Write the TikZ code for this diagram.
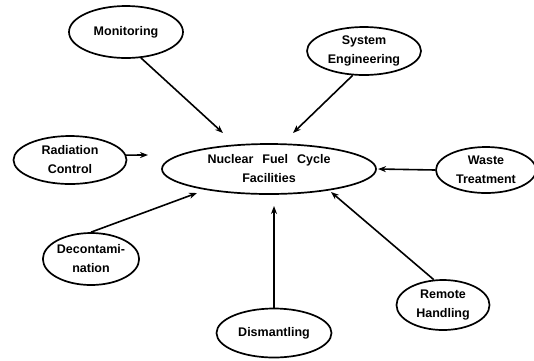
\documentclass[tikz,border=0pt]{standalone}
\usepackage{fontspec}
\setmainfont{Liberation Sans}
\usetikzlibrary{shapes.geometric,arrows.meta}
\begin{document}
\begin{tikzpicture}[x=1pt,y=-1pt,
  oval/.style={ellipse,draw,line width=1.7pt,inner sep=0pt,align=center,
    font=\fontsize{12.5}{19}\selectfont\bfseries},
  feed/.style={line width=1.6pt,-{Stealth[length=8pt,width=6pt]}}]
\useasboundingbox (0,0) rectangle (534,360);
\node[oval,minimum width=214pt,minimum height=50pt] (nfc) at (269,169) {Nuclear\hspace{9pt}Fuel\hspace{9pt}Cycle\\Facilities};
\node[oval,minimum width=114pt,minimum height=52pt] (mon) at (126,32) {Monitoring};
\node[oval,minimum width=114pt,minimum height=48pt] (sys) at (364,51) {System\\Engineering};
\node[oval,minimum width=113pt,minimum height=48pt] (rad) at (70,160) {Radiation\\Control};
\node[oval,minimum width=100pt,minimum height=46pt] (wst) at (486,170) {Waste\\Treatment};
\node[oval,minimum width=94pt,minimum height=52pt] (dec) at (91,259) {Decontami-\\nation};
\node[oval,minimum width=115pt,minimum height=49pt] (dis) at (274,333) {Dismantling};
\node[oval,minimum width=93pt,minimum height=50pt] (rem) at (443,305) {Remote\\Handling};
\coordinate (tmon) at (223,133);
\coordinate (tsys) at (293,133);
\coordinate (trad) at (148,155);
\coordinate (twst) at (378,169);
\coordinate (tdec) at (197,193);
\coordinate (tdis) at (274,206);
\coordinate (trem) at (331,192);
\draw[feed] (mon.-60) -- (tmon);
\draw[feed] (sys.-115) -- (tsys);
\draw[feed] (rad.5) -- (trad);
\draw[feed] (wst.west) -- (twst);
\draw[feed] (dec.north) -- (tdec);
\draw[feed] (dis.north) -- (tdis);
\draw[feed] (rem.110) -- (trem);
\end{tikzpicture}
\end{document}
